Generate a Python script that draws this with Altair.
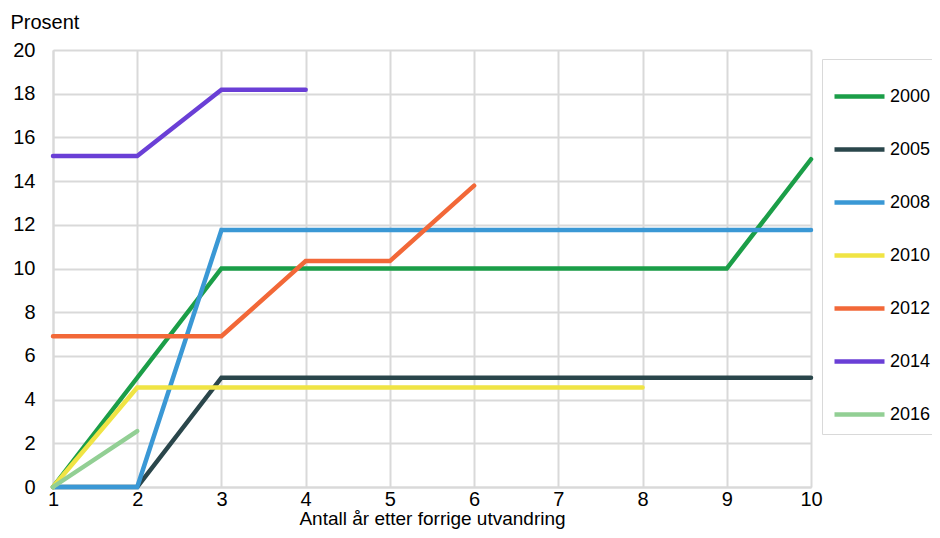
import altair as alt
import pandas as pd

x_years = [1, 2, 3, 4, 5, 6, 7, 8, 9, 10]
s2000 = [0, 5, 10, 10, 10, 10, 10, 10, 10, 15]
s2005 = [0, 0, 5, 5, 5, 5, 5, 5, 5, 5]
s2008 = [0, 0, 11.76, 11.76, 11.76, 11.76, 11.76, 11.76, 11.76, 11.76]
s2010 = [0, 4.55, 4.55, 4.55, 4.55, 4.55, 4.55, 4.55]
s2012 = [6.9, 6.9, 6.9, 10.34, 10.34, 13.79]
s2014 = [15.15, 15.15, 18.18, 18.18]
s2016 = [0, 2.56]

series = ["2000", "2005", "2008", "2010", "2012", "2014", "2016"]
colors = ["#1b9e48", "#2a464b", "#3a98d5", "#f0e444", "#f26838", "#6a3fd6", "#92cf94"]
values = [s2000, s2005, s2008, s2010, s2012, s2014, s2016]

rows = []
for name, vals in zip(series, values):
    for xv, yv in zip(x_years, vals):
        rows.append({"x": xv, "y": yv, "serie": name})
df = pd.DataFrame(rows)

font = "Liberation Sans"
grid = "#d9d9d9"

chart = alt.Chart(df).mark_line(strokeWidth=4.5, strokeCap="round", strokeJoin="miter").encode(
    x=alt.X("x:Q", scale=alt.Scale(domain=[1, 10], nice=False),
            axis=alt.Axis(values=x_years, title="Antall år etter forrige utvandring",
                          grid=True, gridColor=grid, gridWidth=2, domainColor=grid, domainWidth=2,
                          ticks=False, labelPadding=2, labelFontSize=20, labelFont=font,
                          labelColor="#000", titleFont=font, titleFontSize=19,
                          titleFontWeight="normal", titleColor="#000", titlePadding=0,
                          labelFlush=False)),
    y=alt.Y("y:Q", scale=alt.Scale(domain=[0, 20], nice=False),
            axis=alt.Axis(values=[0, 2, 4, 6, 8, 10, 12, 14, 16, 18, 20], title="Prosent",
                          grid=True, gridColor=grid, gridWidth=2, domainColor=grid, domainWidth=2,
                          ticks=False, labelPadding=18, labelFontSize=20, labelFont=font,
                          labelColor="#000", titleFont=font, titleFontSize=20,
                          titleFontWeight="normal", titleColor="#000", titleAngle=0,
                          titleAlign="left", titleBaseline="alphabetic", titleX=-43, titleY=-22)),
    color=alt.Color("serie:N", scale=alt.Scale(domain=series, range=colors),
                    legend=alt.Legend(title=None, orient="none", legendX=769, legendY=9,
                                      symbolType="stroke", symbolStrokeWidth=4.5, symbolSize=2500,
                                      labelFontSize=18, labelFont=font, labelColor="#000",
                                      labelOffset=3, strokeColor=grid, padding=10,
                                      rowPadding=16, fillColor="white")),
    order=alt.Order("x:Q"),
).properties(
    width=758, height=437,
    autosize=alt.AutoSizeParams(type="none"),
    padding={"left": 45, "top": 42, "right": 121, "bottom": 43},
).configure_view(stroke=None).configure(background="white")

chart.save("out.html", embed_options={"renderer": "svg", "actions": False})
